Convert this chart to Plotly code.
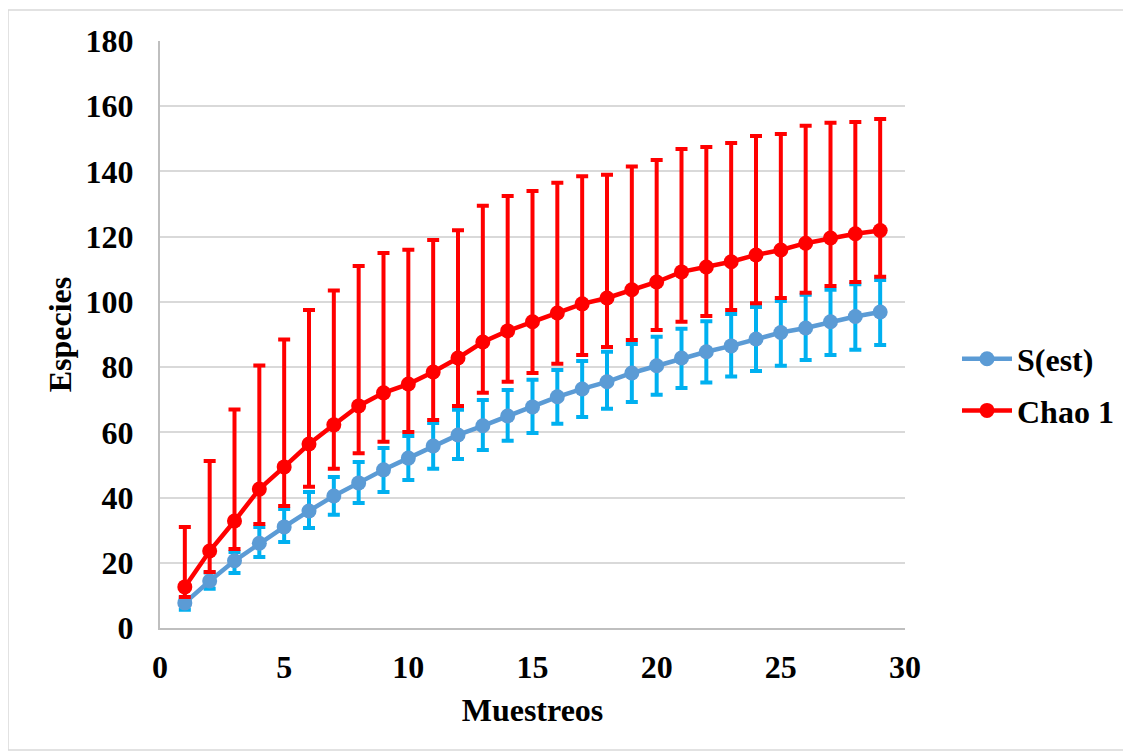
import plotly.graph_objects as go

muestreos = list(range(1, 30))

s_est = [7.7, 14.4, 20.6, 26.0, 31.0, 35.9, 40.5, 44.5, 48.5, 52.1, 55.8,
         59.2, 62.0, 65.0, 67.8, 70.9, 73.3, 75.5, 78.2, 80.4,
         82.8, 84.7, 86.5, 88.6, 90.6, 92.0, 93.9, 95.5, 96.9]
s_upper = [9.3, 17.0, 23.3, 31.0, 36.5, 41.7, 46.3, 50.9, 55.2, 58.9, 62.9,
           66.9, 69.9, 73.0, 76.1, 79.1, 81.9, 84.7, 87.1, 89.3,
           91.8, 94.1, 96.3, 98.4, 100.3, 102.2, 103.7, 105.4, 106.7]
s_lower = [5.6, 12.0, 16.9, 21.8, 26.4, 30.7, 34.7, 38.3, 41.7, 45.4, 48.8,
           51.8, 54.6, 57.4, 59.8, 62.6, 64.7, 67.2, 69.3, 71.5,
           73.6, 75.3, 77.1, 78.8, 80.4, 82.2, 83.7, 85.3, 86.8]

chao1 = [12.6, 23.6, 32.8, 42.6, 49.4, 56.4, 62.3, 68.1, 72.1, 74.8, 78.5,
         82.8, 87.7, 91.1, 93.9, 96.6, 99.4, 101.2, 103.7, 106.1,
         109.2, 110.7, 112.3, 114.4, 115.9, 118.0, 119.6, 120.9, 121.9]
chao1_upper = [31.0, 51.2, 67.0, 80.5, 88.5, 97.5, 103.5, 111.0, 115.0, 116.0, 119.0,
               122.0, 129.5, 132.5, 134.0, 136.5, 138.5, 139.0, 141.5, 143.5,
               146.9, 147.5, 148.7, 150.9, 151.5, 154.0, 154.9, 155.2, 156.1]
chao1_lower = [9.5, 17.2, 24.2, 31.9, 37.4, 43.3, 48.8, 53.6, 57.1, 60.1, 63.8,
               68.1, 72.1, 75.5, 78.2, 81.0, 83.7, 86.2, 88.3, 91.4,
               93.9, 95.7, 97.5, 99.6, 101.2, 102.8, 104.9, 106.1, 107.7]

x_ticks = [0, 5, 10, 15, 20, 25, 30]
y_ticks = [0, 20, 40, 60, 80, 100, 120, 140, 160, 180]

W, H = 1131, 753
OFF = 8  # page body margin
PW, PH = 745, 587
ML, MT = 160 - OFF, 41 - OFF
MR, MB = W - ML - PW, H - MT - PH
FONT = "Liberation Serif"
FS = 32

fig = go.Figure()

fig.add_trace(go.Scatter(
    x=muestreos, y=s_est, name="S(est)", mode="lines+markers", legendgroup="a",
    line=dict(color="#5B9BD5", width=4.5),
    marker=dict(color="#5B9BD5", size=15),
    error_y=dict(type="data", symmetric=False,
                 array=[u - v for u, v in zip(s_upper, s_est)],
                 arrayminus=[v - l for v, l in zip(s_est, s_lower)],
                 color="#00B0F0", thickness=4, width=6),
))
fig.add_trace(go.Scatter(
    x=muestreos, y=chao1, name="Chao 1", mode="lines+markers", legendgroup="b",
    line=dict(color="#FF0000", width=4.5),
    marker=dict(color="#FF0000", size=15),
    error_y=dict(type="data", symmetric=False,
                 array=[u - v for u, v in zip(chao1_upper, chao1)],
                 arrayminus=[v - l for v, l in zip(chao1, chao1_lower)],
                 color="#FF0000", thickness=4, width=6),
))

def px_x(p):
    return (p - OFF - ML) / PW
def px_y(p):
    return (H - MB - (p - OFF)) / PH

fig.add_shape(type="rect", xref="paper", yref="paper",
              x0=px_x(8), x1=px_x(1128), y0=px_y(750), y1=px_y(10),
              line=dict(color="#D9D9D9", width=1.5), fillcolor="rgba(0,0,0,0)",
              layer="below")

fig.update_layout(
    width=W, height=H,
    margin=dict(l=ML, r=MR, t=MT, b=MB),
    paper_bgcolor="white", plot_bgcolor="white",
    font=dict(family=FONT, size=FS, color="black"),
    showlegend=True,
    legend=dict(x=px_x(957), xanchor="left", y=px_y(385), yanchor="middle",
                font=dict(family=FONT, size=FS, color="black", weight="bold"),
                itemwidth=50, traceorder="grouped", tracegroupgap=7,
                bgcolor="rgba(0,0,0,0)"),
    xaxis=dict(range=[0, 30], tickvals=x_ticks, ticktext=[str(v) for v in x_ticks],
               showgrid=False, zeroline=False, showline=True,
               linecolor="#BFBFBF", linewidth=2, ticks="outside", ticklen=10,
               tickcolor="rgba(0,0,0,0)",
               tickfont=dict(family=FONT, size=FS, color="black", weight="bold"),
               title=dict(text="Muestreos", standoff=14,
                          font=dict(family=FONT, size=FS, color="black", weight="bold"))),
    yaxis=dict(range=[0, 180], tickvals=y_ticks, ticktext=[str(v) for v in y_ticks],
               showgrid=True, gridcolor="#D9D9D9", gridwidth=2,
               zeroline=False, showline=True,
               linecolor="#BFBFBF", linewidth=2, ticks="outside", ticklen=18,
               tickcolor="rgba(0,0,0,0)",
               tickfont=dict(family=FONT, size=FS, color="black", weight="bold"),
               title=dict(text="Especies", standoff=4,
                          font=dict(family=FONT, size=FS, color="black", weight="bold"))),
)

fig.write_html("out.html")
